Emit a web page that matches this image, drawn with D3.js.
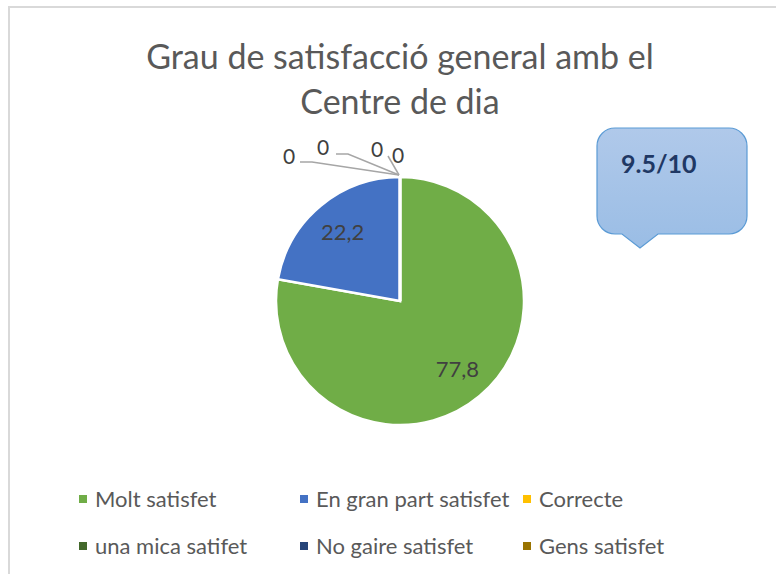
<!DOCTYPE html>
<html>
<head>
<meta charset="utf-8">
<script src="https://cdn.jsdelivr.net/npm/d3@7"></script>
<style>
  body { margin: 0; background: #fff; }
  text { font-family: Lato, "Open Sans", sans-serif; }
</style>
</head>
<body>
<div id="plot"></div>
<script>
// data
const categories = ["Molt satisfet", "En gran part satisfet", "Correcte",
                    "una mica satifet", "No gaire satisfet", "Gens satisfet"];
const values = [77.8, 22.2, 0, 0, 0, 0];
const colors = ["#70AD47", "#4472C4", "#FFC000", "#43682B", "#264478", "#997300"];
const titleLines = ["Grau de satisfacció general amb el", "Centre de dia"];
const scoreText = "9.5/10";

const W = 776, H = 574;
const cx = 400, cy = 301, radius = 124;

const svg = d3.select("#plot")
  .append("svg")
  .attr("width", W)
  .attr("height", H);

// chart border (runs off the right and bottom edge)
svg.append("rect")
  .attr("x", 9).attr("y", 7)
  .attr("width", W + 20).attr("height", H + 20)
  .attr("fill", "#fff")
  .attr("stroke", "#d9d9d9")
  .attr("stroke-width", 2);

// title
svg.append("text")
  .attr("x", cx)
  .attr("text-anchor", "middle")
  .attr("fill", "#595959")
  .style("font-size", "34px")
  .selectAll("tspan")
  .data(titleLines)
  .enter()
  .append("tspan")
  .attr("x", cx)
  .attr("y", (d, i) => 69 + i * 45)
  .text(d => d);

// pie
const rows = categories.map((c, i) => ({ cat: c, value: values[i], color: colors[i] }));
const pie = d3.pie().sort(null).value(d => d.value);
const arcs = pie(rows);
const arc = d3.arc().innerRadius(0).outerRadius(radius);
const labelArc = d3.arc().innerRadius(radius * 0.72).outerRadius(radius * 0.72);

const g = svg.append("g").attr("transform", `translate(${cx},${cy})`);

g.selectAll("path.slice")
  .data(arcs)
  .enter()
  .append("path")
  .attr("class", "slice")
  .attr("d", arc)
  .attr("fill", d => d.data.color)
  .attr("stroke", "#fff")
  .attr("stroke-width", 2.5);

// labels for non-zero slices at the centroid
g.selectAll("text.val")
  .data(arcs.filter(d => d.data.value > 0))
  .enter()
  .append("text")
  .attr("class", "val")
  .attr("transform", d => `translate(${labelArc.centroid(d)})`)
  .attr("text-anchor", "middle")
  .attr("dy", "0.35em")
  .attr("fill", "#404040")
  .style("font-size", "22px")
  .text(d => String(d.data.value).replace(".", ","));

// zero slices: labels pushed out with leader lines (offsets from pie centre)
const zeroOffsets = [[-111, -144], [-77, -153], [-23, -151], [-2, -145]];
const zeroLeaders = [
  [[-100, -139], [-88, -139]],
  [[-64, -147], [-52, -147]],
  [[-12, -145]],
  null
];
const zeros = arcs.filter(d => d.data.value === 0);

zeros.forEach((d, i) => {
  const a = d.startAngle;
  const anchor = [Math.sin(a) * radius - 1, -Math.cos(a) * radius - 2];
  if (zeroLeaders[i]) {
    g.append("path")
      .attr("d", d3.line()(zeroLeaders[i].concat([anchor])))
      .attr("fill", "none")
      .attr("stroke", "#a6a6a6")
      .attr("stroke-width", 1.5);
  }
  g.append("text")
    .attr("x", zeroOffsets[i][0])
    .attr("y", zeroOffsets[i][1])
    .attr("text-anchor", "middle")
    .attr("dy", "0.35em")
    .attr("fill", "#404040")
    .style("font-size", "21px")
    .text(String(d.data.value));
});

// callout with the score
const defs = svg.append("defs");
const grad = defs.append("linearGradient")
  .attr("id", "calloutFill")
  .attr("x1", 0).attr("y1", 0).attr("x2", 0).attr("y2", 1);
grad.append("stop").attr("offset", "0%").attr("stop-color", "#b0c9ea");
grad.append("stop").attr("offset", "100%").attr("stop-color", "#9abde5");

const bx = 597, by = 128, bw = 150, bh = 106, br = 18;
const tipX = 640, tipW = 18, tipH = 14;
const callout = d3.path();
callout.moveTo(bx + br, by);
callout.lineTo(bx + bw - br, by);
callout.arcTo(bx + bw, by, bx + bw, by + br, br);
callout.lineTo(bx + bw, by + bh - br);
callout.arcTo(bx + bw, by + bh, bx + bw - br, by + bh, br);
callout.lineTo(tipX + tipW, by + bh);
callout.lineTo(tipX, by + bh + tipH);
callout.lineTo(tipX - tipW, by + bh);
callout.lineTo(bx + br, by + bh);
callout.arcTo(bx, by + bh, bx, by + bh - br, br);
callout.lineTo(bx, by + br);
callout.arcTo(bx, by, bx + br, by, br);
callout.closePath();

svg.append("path")
  .attr("d", callout.toString())
  .attr("fill", "url(#calloutFill)")
  .attr("stroke", "#5b9bd5")
  .attr("stroke-width", 1.2);

svg.append("text")
  .attr("x", 621)
  .attr("y", 173)
  .attr("fill", "#1f3864")
  .style("font-size", "25px")
  .style("font-weight", "bold")
  .text(scoreText);

// legend
const legendX = [79, 300, 523];
const legendY = [499, 546];
const legend = svg.append("g")
  .selectAll("g")
  .data(rows)
  .enter()
  .append("g")
  .attr("transform", (d, i) => `translate(${legendX[i % 3]},${legendY[Math.floor(i / 3)]})`);

legend.append("rect")
  .attr("x", 0).attr("y", -4)
  .attr("width", 8).attr("height", 8)
  .attr("fill", d => d.color);

legend.append("text")
  .attr("x", 16)
  .attr("dy", "0.35em")
  .attr("fill", "#595959")
  .style("font-size", "22px")
  .text(d => d.cat);
</script>
</body>
</html>
